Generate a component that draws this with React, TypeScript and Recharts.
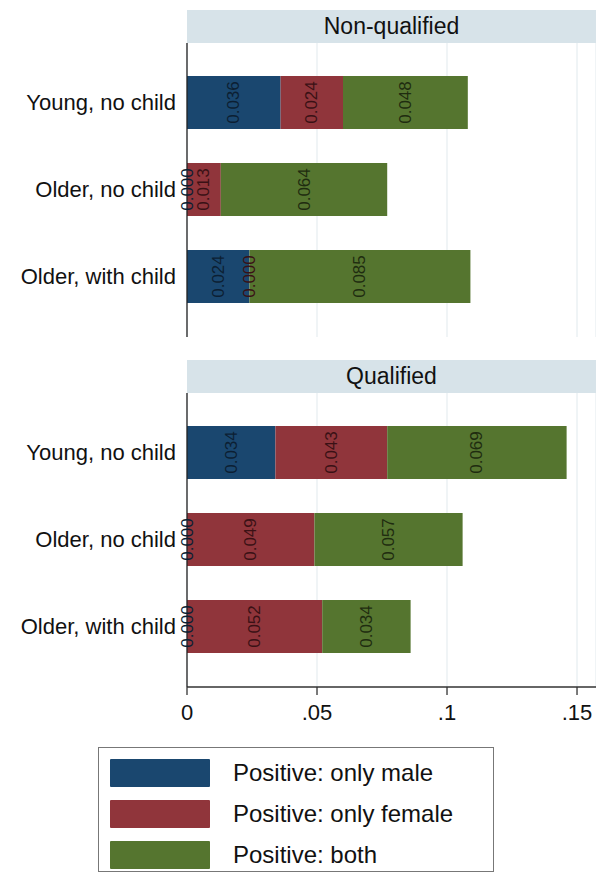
import React from "react";
import {
  BarChart,
  Bar,
  XAxis,
  YAxis,
  CartesianGrid,
  LabelList,
} from "recharts";

const categories = ["Young, no child", "Older, no child", "Older, with child"];
const panels = ["Non-qualified", "Qualified"];
const seriesNames = ["Positive: only male", "Positive: only female", "Positive: both"];
const xTicks = [0, 0.05, 0.1, 0.15];
const xTickLabels = ["0", ".05", ".1", ".15"];

const nonQualMale = [0.036, 0.0, 0.024];
const nonQualFemale = [0.024, 0.013, 0.0];
const nonQualBoth = [0.048, 0.064, 0.085];

const qualMale = [0.034, 0.0, 0.0];
const qualFemale = [0.043, 0.049, 0.052];
const qualBoth = [0.069, 0.057, 0.034];

const COLORS = ["#1a476f", "#90353b", "#55752f"];
const LABEL_COLORS = ["#0c1f33", "#3a1115", "#1f2c10"];
const FONT = "'Liberation Sans', Arial, Helvetica, sans-serif";

const buildRows = (male: number[], female: number[], both: number[]) =>
  categories.map((name, i) => ({ name, male: male[i], female: female[i], both: both[i] }));

const nonQualData = buildRows(nonQualMale, nonQualFemale, nonQualBoth);
const qualData = buildRows(qualMale, qualFemale, qualBoth);

const keys = ["male", "female", "both"];

// zero-width segments get no label from Recharts, so the last segment of
// each stack draws the labels for the whole stack, using its own px/unit scale
const stackLabels = (rows: any[]) => (props: any) => {
  const vb = props.viewBox || {};
  const x = Number(vb.x ?? props.x);
  const y = Number(vb.y ?? props.y);
  const w = Number(vb.width ?? props.width ?? 0);
  const h = Number(vb.height ?? props.height ?? 0);
  let idx = props.index;
  if (idx == null && props.payload) idx = rows.findIndex((r) => r.name === props.payload.name);
  const row = rows[idx];
  if (!row || !row.both) return null;
  const k = w / row.both;
  const start = x - (row.male + row.female) * k;
  const cy = y + h / 2;
  let acc = start;
  return (
    <g>
      {keys.map((key, i) => {
        const segW = row[key] * k;
        const cx = acc + segW / 2;
        acc += segW;
        return (
          <text
            key={key}
            x={cx}
            y={cy}
            transform={`rotate(-90 ${cx} ${cy})`}
            textAnchor="middle"
            dominantBaseline="central"
            fontSize={17}
            fontFamily={FONT}
            fill={LABEL_COLORS[i]}
          >
            {Number(row[key]).toFixed(3)}
          </text>
        );
      })}
    </g>
  );
};

const Header = ({ title, top }: { title: string; top: number }) => (
  <div
    style={{
      position: "absolute",
      left: 187,
      top,
      width: 409,
      height: 33,
      background: "#d7e3e9",
      fontSize: 23,
      lineHeight: "33px",
      textAlign: "center",
      color: "#111",
    }}
  >
    {title}
  </div>
);

function Panel({ data, showAxis }: { data: any[]; showAxis: boolean }) {
  const height = showAxis ? 380 : 340;
  return (
    <BarChart
      layout="vertical"
      width={596}
      height={height}
      data={data}
      margin={{ top: 43, right: 0, bottom: 3, left: 0 }}
      barSize={53}
    >
      <CartesianGrid horizontal={false} stroke="#e6edf0" strokeWidth={1.2} />
      <XAxis
        type="number"
        domain={[0, 0.1573]}
        allowDataOverflow
        ticks={xTicks}
        hide={!showAxis}
        height={40}
        tickFormatter={(v: number) => xTickLabels[xTicks.indexOf(v)] ?? String(v)}
        tick={{ fontSize: 22, fill: "#111", fontFamily: FONT }}
        tickSize={8}
        tickMargin={9}
        stroke="#333"
        axisLine={{ stroke: "#333", strokeWidth: 1.3 }}
        tickLine={{ stroke: "#333", strokeWidth: 1.3 }}
      />
      <YAxis
        type="category"
        dataKey="name"
        width={187}
        padding={{ top: 16, bottom: 17 }}
        tickLine={false}
        tickSize={0}
        tickMargin={11}
        tick={{ fontSize: 22, fill: "#111", fontFamily: FONT }}
        axisLine={{ stroke: "#222", strokeWidth: 1.3 }}
      />
      {keys.map((k, i) => (
        <Bar key={k} dataKey={k} name={seriesNames[i]} stackId="a" fill={COLORS[i]} isAnimationActive={false}>
          {k === "both" && <LabelList dataKey={k} content={stackLabels(data)} />}
        </Bar>
      ))}
    </BarChart>
  );
}

export default function App() {
  return (
    <div
      style={{
        position: "absolute",
        left: 0,
        top: 0,
        width: 596,
        height: 879,
        background: "#fff",
        fontFamily: FONT,
        overflow: "hidden",
      }}
    >
      <div style={{ position: "absolute", left: 0, top: 0 }}>
        <Panel data={nonQualData} showAxis={false} />
      </div>
      <div style={{ position: "absolute", left: 0, top: 350 }}>
        <Panel data={qualData} showAxis={true} />
      </div>
      <Header title={panels[0]} top={10} />
      <Header title={panels[1]} top={360} />
      <div
        style={{
          position: "absolute",
          left: 98,
          top: 747,
          width: 396,
          height: 125,
          border: "1.5px solid #777",
          boxSizing: "border-box",
        }}
      />
      {seriesNames.map((s, i) => (
        <div
          key={s}
          style={{
            position: "absolute",
            left: 110,
            top: 752 + 41 * i,
            height: 41,
            display: "flex",
            alignItems: "center",
          }}
        >
          <div
            style={{
              width: 100,
              height: 28,
              background: COLORS[i],
              borderRadius: 1,
            }}
          />
          <span style={{ marginLeft: 23, fontSize: 24, color: "#111" }}>{s}</span>
        </div>
      ))}
    </div>
  );
}
